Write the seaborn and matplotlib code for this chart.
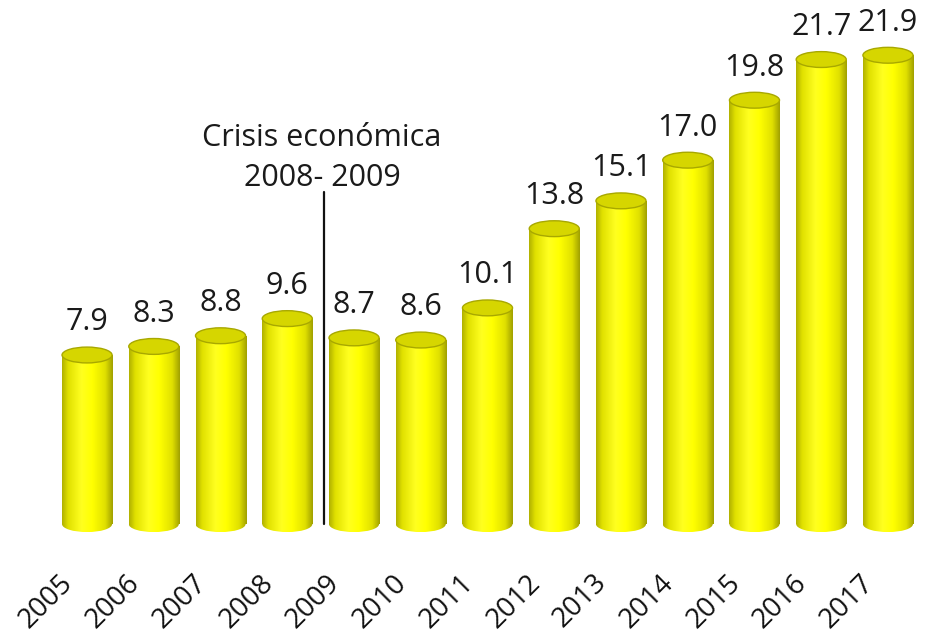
import numpy as np
import pandas as pd
import matplotlib
matplotlib.use('Agg')
import matplotlib.pyplot as plt
import seaborn as sns
from matplotlib.patches import Ellipse
from matplotlib.colors import LinearSegmentedColormap
from matplotlib.transforms import ScaledTranslation

years = ['2005', '2006', '2007', '2008', '2009', '2010', '2011',
         '2012', '2013', '2014', '2015', '2016', '2017']
values = [7.9, 8.3, 8.8, 9.6, 8.7, 8.6, 10.1, 13.8, 15.1, 17.0, 19.8, 21.7, 21.9]
crisis_text = 'Crisis económica\n2008- 2009'
crisis_line_top = 15.5

sns.set_theme(style='white')
plt.rcParams['font.family'] = ['Open Sans', 'DejaVu Sans']

W, H = 939, 639
fig = plt.figure(figsize=(W / 100, H / 100), dpi=100)
ax = fig.add_axes([47 / W, 102 / H, (928 - 47) / W, 516 / H])

df = pd.DataFrame({'year': years, 'value': values})
sns.barplot(data=df, x='year', y='value', color='#ffff00', width=0.75,
            saturation=1, ax=ax, zorder=2)

XLIM = (-0.6, 12.6)
YLIM = (-0.6, 23.5)
eh = 0.74  # ellipse height in data units

cmap = LinearSegmentedColormap.from_list(
    'cyl', [(0, '#b0b000'), (0.12, '#e0e000'), (0.38, '#ffff20'),
            (0.6, '#ffff00'), (0.85, '#e0e000'), (1, '#a0a000')])
grad = np.linspace(0, 1, 256).reshape(1, -1)

for p in list(ax.patches):
    x, w, h = p.get_x(), p.get_width(), p.get_height()
    p.set_facecolor('none')
    p.set_edgecolor('none')
    im = ax.imshow(grad, extent=[x, x + w, 0, h], aspect='auto', cmap=cmap,
                   zorder=2, interpolation='bilinear')
    im.set_clip_path(p)
    eb = Ellipse((x + w / 2, 0), w, eh, facecolor='none', edgecolor='none')
    ax.add_patch(eb)
    im2 = ax.imshow(grad, extent=[x, x + w, -eh / 2, 0.01], aspect='auto',
                    cmap=cmap, zorder=2, interpolation='bilinear')
    im2.set_clip_path(eb)
    et = Ellipse((x + w / 2, h), w, eh, facecolor='#d6d600',
                 edgecolor='#a8a800', lw=1.0, zorder=3)
    ax.add_patch(et)
    ax.annotate(f'{h:.1f}', (x + w / 2, h + eh / 2), xytext=(0, 7),
                textcoords='offset points', ha='center', va='bottom',
                fontsize=22, color='#1a1a1a')

# crisis marker between 2008 and 2009
xc = (years.index('2008') + years.index('2009')) / 2 + 0.05
ax.plot([xc, xc], [0, crisis_line_top], color='#111111', lw=1.6, zorder=4)
ax.text(xc - 0.03, crisis_line_top + 1.6, crisis_text, ha='center', va='center',
        fontsize=22, linespacing=1.4, color='#1a1a1a')

ax.set_xlim(*XLIM)
ax.set_ylim(*YLIM)
ax.set_yticks([])
ax.set_xlabel('')
ax.set_ylabel('')
sns.despine(ax=ax, left=True, bottom=True)
ax.tick_params(axis='x', length=0, pad=30, labelsize=20, labelcolor='#111111')
off = ScaledTranslation(-13 / 72, 0, fig.dpi_scale_trans)
for lab in ax.get_xticklabels():
    lab.set_rotation(45)
    lab.set_ha('right')
    lab.set_va('center')
    lab.set_rotation_mode('anchor')
    lab.set_transform(lab.get_transform() + off)

fig.savefig('out.png', dpi=100, facecolor='white')
